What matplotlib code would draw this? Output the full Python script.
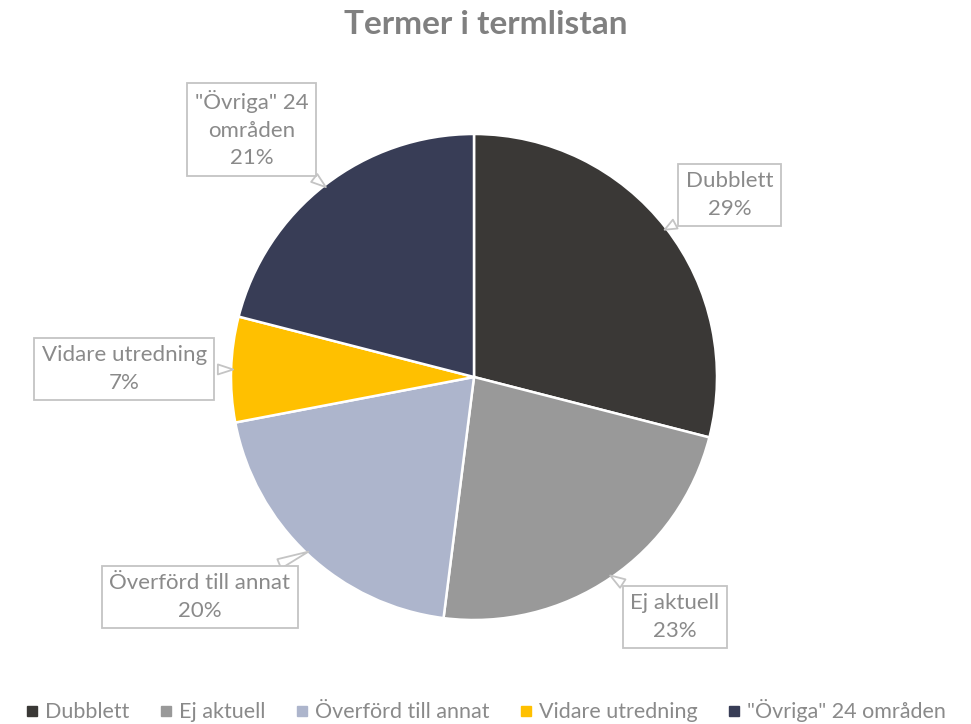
import numpy as np
import matplotlib.pyplot as plt
from matplotlib.lines import Line2D

plt.rcParams['font.family'] = ['Lato', 'DejaVu Sans']

categories = ['Dubblett', 'Ej aktuell', 'Överförd till annat', 'Vidare utredning', '"Övriga" 24 områden']
shares = [29, 23, 20, 7, 21]
label_texts = ['Dubblett\n29%', 'Ej aktuell\n23%', 'Överförd till annat\n20%',
               'Vidare utredning\n7%', '"Övriga" 24\nområden\n21%']
colors = ['#3a3836', '#999999', '#adb5cc', '#ffc000', '#383d56']
# label box centres (data units, pie radius = 1)
label_pos = [(1.053, 0.749), (0.827, -0.988), (-1.128, -0.905), (-1.44, 0.033), (-0.914, 1.02)]

W, H = 971, 724
fig = plt.figure(figsize=(W / 100, H / 100), dpi=100)
cx, cy, r = 474, 377, 243
ax = fig.add_axes([(cx - r) / W, (H - cy - r) / H, 2 * r / W, 2 * r / H])

wedges, _ = ax.pie(shares, colors=colors, startangle=90, counterclock=False,
                   wedgeprops=dict(edgecolor='white', linewidth=1.8))
ax.set_xlim(-1, 1)
ax.set_ylim(-1, 1)
ax.set_aspect('equal')
ax.axis('off')

gray = '#8a8a8a'
for w, txt, pos in zip(wedges, label_texts, label_pos):
    mid = np.deg2rad((w.theta1 + w.theta2) / 2)
    tip = (0.98 * np.cos(mid), 0.98 * np.sin(mid))
    ax.annotate(txt, xy=tip, xytext=pos, ha='center', va='center',
                fontsize=16, color=gray, linespacing=1.45, annotation_clip=False,
                bbox=dict(boxstyle='square,pad=0.35', fc='white', ec='#c4c4c4', lw=1.3),
                arrowprops=dict(arrowstyle='wedge,tail_width=0.45,shrink_factor=0.5',
                                fc='white', ec='#c4c4c4', lw=1.3))

fig.text(0.5, 1 - 24 / H, 'Termer i termlistan', ha='center', va='center',
         fontsize=24, fontweight='bold', color='#808080')

handles = [Line2D([], [], marker='s', linestyle='none', markersize=7,
                  markerfacecolor=c, markeredgecolor=c) for c in colors]
fig.legend(handles, categories, loc='center', bbox_to_anchor=(0.5, 1 - 711 / H),
           ncol=5, frameon=False, fontsize=15.5, labelcolor=gray,
           handlelength=0.6, handletextpad=0.3, columnspacing=1.4)

fig.savefig('out.png', dpi=100)
